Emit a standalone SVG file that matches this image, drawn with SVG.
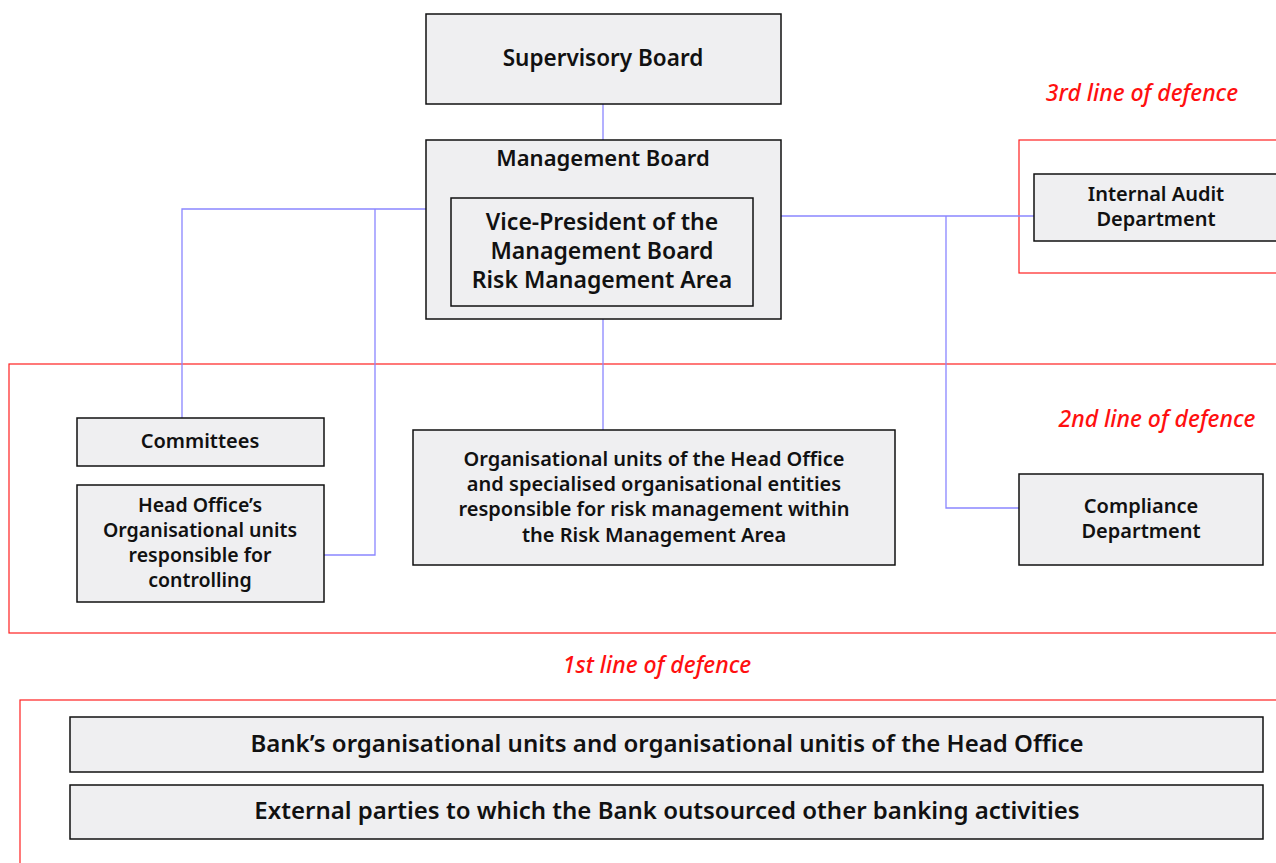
<svg xmlns="http://www.w3.org/2000/svg" width="1276" height="863" viewBox="0 0 1276 863">
<style>
.box{fill:#efeff1;stroke:#111;stroke-width:1.5}
.zone{fill:none;stroke:#ff2020;stroke-width:1.2}
.t{font-family:"Noto Sans","DejaVu Sans",sans-serif;font-weight:600;fill:#111;text-anchor:middle}
.z{font-family:"Noto Sans","DejaVu Sans",sans-serif;font-style:italic;font-weight:500;fill:#ff1010;font-size:23px;text-anchor:middle}
.c{fill:none;stroke:#8a86ff;stroke-width:1.3}
</style>
<rect width="1276" height="863" fill="#fff"/>
<g id="zones">
<rect class="zone" x="1019" y="140" width="270" height="133"/>
<rect class="zone" x="9" y="364" width="1280" height="269"/>
<rect class="zone" x="20" y="700" width="1270" height="180"/>
<text class="z" x="1142" y="101">3rd line of defence</text>
<text class="z" x="1157" y="427">2nd line of defence</text>
<text class="z" x="657" y="673">1st line of defence</text>
</g>
<g id="connectors">
<path class="c" d="M603 104V140"/>
<path class="c" d="M426 209H182V418"/>
<path class="c" d="M375 209V555H324"/>
<path class="c" d="M603 306V430"/>
<path class="c" d="M781 216H1034"/>
<path class="c" d="M946 216V508H1019"/>
</g>
<g id="supervisory">
<rect class="box" x="426" y="14" width="355" height="90"/>
<text class="t" x="603" y="66" font-size="22.5">Supervisory Board</text>
</g>
<g id="management">
<rect class="box" x="426" y="140" width="355" height="179"/>
<text class="t" x="603" y="166" font-size="22">Management Board</text>
</g>
<g id="vp">
<rect class="box" x="451" y="198" width="302" height="108"/>
<text class="t" font-size="23"><tspan x="602" y="230">Vice-President of the</tspan><tspan x="602" y="259">Management Board</tspan><tspan x="602" y="288">Risk Management Area</tspan></text>
</g>
<g id="audit">
<rect class="box" x="1034" y="174" width="250" height="67"/>
<text class="t" font-size="20"><tspan x="1156" y="201">Internal Audit</tspan><tspan x="1156" y="226">Department</tspan></text>
</g>
<g id="committees">
<rect class="box" x="77" y="418" width="247" height="48"/>
<text class="t" x="200" y="448" font-size="20">Committees</text>
</g>
<g id="headoffice">
<rect class="box" x="77" y="485" width="247" height="117"/>
<text class="t" font-size="19.5"><tspan x="200" y="512">Head Office’s</tspan><tspan x="200" y="537">Organisational units</tspan><tspan x="200" y="562">responsible for</tspan><tspan x="200" y="587">controlling</tspan></text>
</g>
<g id="orgunits">
<rect class="box" x="413" y="430" width="482" height="135"/>
<text class="t" font-size="20"><tspan x="654" y="466">Organisational units of the Head Office</tspan><tspan x="654" y="491">and specialised organisational entities</tspan><tspan x="654" y="516">responsible for risk management within</tspan><tspan x="654" y="542">the Risk Management Area</tspan></text>
</g>
<g id="compliance">
<rect class="box" x="1019" y="474" width="244" height="91"/>
<text class="t" font-size="20"><tspan x="1141" y="513">Compliance</tspan><tspan x="1141" y="538">Department</tspan></text>
</g>
<g id="banks">
<rect class="box" x="70" y="717" width="1193" height="55"/>
<text class="t" x="667" y="752" font-size="24">Bank’s organisational units and organisational unitis of the Head Office</text>
</g>
<g id="external">
<rect class="box" x="70" y="785" width="1193" height="54"/>
<text class="t" x="667" y="819" font-size="24">External parties to which the Bank outsourced other banking activities</text>
</g>
</svg>
